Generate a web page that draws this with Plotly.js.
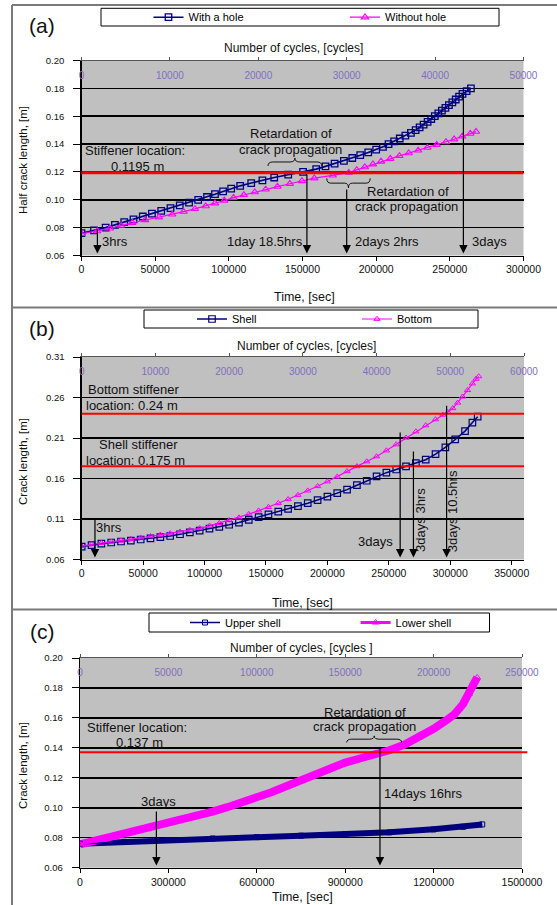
<!DOCTYPE html>
<html><head><meta charset="utf-8">
<script src="https://cdn.plot.ly/plotly-3.0.1.min.js"></script>
<style>html,body{margin:0;padding:0;background:#fff;}#chart{width:557px;height:905px;}</style>
</head><body><div id="chart"></div>
<script>
// ---------- Panel (a) ----------
const aHoleTime = [0,8500,16400,22700,29000,35300,41600,47800,54100,60400,66700,73000,79200,85200,90600,96100,101600,107700,115200,122800,130800,140300,150400,159300,165600,171800,178100,183800,189200,194600,200000,204600,208400,212200,216000,219800,223600,226800,229500,232200,234900,237400,239800,242200,244600,247000,249400,251700,254000,256300,258600,261400,264300];
const aHoleLen = [0.076,0.078,0.080,0.082,0.084,0.086,0.088,0.090,0.092,0.094,0.096,0.098,0.100,0.102,0.104,0.106,0.108,0.110,0.112,0.114,0.116,0.118,0.120,0.122,0.124,0.126,0.128,0.130,0.132,0.134,0.136,0.138,0.140,0.142,0.144,0.146,0.148,0.150,0.152,0.154,0.156,0.158,0.160,0.162,0.164,0.166,0.168,0.170,0.172,0.174,0.176,0.178,0.180];
const aNoHoleTime = [0,10600,19300,26900,34500,43200,52600,61600,69300,77000,84300,90600,96900,103200,110200,117600,125000,133000,141400,149600,158000,170500,181400,186800,192300,197800,203300,209600,215800,222100,228500,234800,241100,247400,252900,258400,263900,267800];
const aNoHoleLen = [0.0755,0.0775,0.0795,0.0815,0.0835,0.0855,0.0875,0.0895,0.0915,0.0935,0.0955,0.0975,0.0995,0.1015,0.1035,0.1055,0.1075,0.1095,0.1115,0.1135,0.1155,0.1175,0.1195,0.1215,0.1235,0.1255,0.1275,0.1295,0.1315,0.1335,0.1355,0.1375,0.1395,0.1415,0.1435,0.1455,0.1475,0.1489];
const aSeriesNames = ['With a hole','Without hole'];
const aCycleAxis = [0, 50000];
const aStiffener = [0.1195];
const aArrowTimes = [10800,153000,180000,259200];
const aArrowTops = [0.0795,0.119,0.1085,0.177];
const aArrowLabels = ['3hrs','1day 18.5hrs','2days 2hrs','3days'];

// ---------- Panel (b) ----------
const bShellTime = [0,8000,16000,24000,32000,40000,48000,56000,64000,72000,80000,88000,96000,104000,112000,120000,128000,136000,144000,152000,160000,168000,176000,184000,192000,200000,208000,216000,224000,232000,240000,248000,256000,264000,272000,280000,288000,296000,304000,312000,318000,322300];
const bShellLen = [0.0760,0.0778,0.0797,0.0810,0.0822,0.0834,0.0847,0.0861,0.0875,0.0890,0.0912,0.0934,0.0956,0.0980,0.1004,0.1029,0.1056,0.1089,0.1123,0.1156,0.1190,0.1225,0.1260,0.1295,0.1334,0.1376,0.1419,0.1463,0.1517,0.1572,0.1627,0.1672,0.1711,0.1749,0.1789,0.1832,0.1900,0.1984,0.2082,0.2185,0.2290,0.2363];
const bBottomTime = [0,8000,16000,24000,32000,40000,48000,56000,64000,72000,80000,88000,96000,104000,112000,120000,128000,136000,144000,152000,160000,168000,176000,184000,192000,200000,208000,216000,224000,232000,240000,248000,256000,264000,272000,280000,288000,294000,298000,302000,306000,310000,314000,318000,321000,323100];
const bBottomLen = [0.0765,0.0787,0.0804,0.0818,0.0833,0.0852,0.0869,0.0887,0.0905,0.0923,0.0943,0.0963,0.0985,0.1015,0.1049,0.1083,0.1118,0.1160,0.1204,0.1247,0.1295,0.1344,0.1396,0.1450,0.1505,0.1563,0.1622,0.1689,0.1750,0.1810,0.1872,0.1945,0.2020,0.2103,0.2180,0.2255,0.2330,0.2386,0.2420,0.2467,0.2535,0.2610,0.2690,0.2772,0.2830,0.2860];
const bSeriesNames = ['Shell','Bottom'];
const bCycleAxis = [0, 60000];
const bStiffeners = [0.24,0.175];
const bArrowTimes = [10800,259200,270000,297000];
const bArrowTops = [0.111,0.2186,0.1952,0.2516];
const bArrowLabels = ['3hrs','3days','3days 3hrs','3days 10.5hrs'];

// ---------- Panel (c) ----------
const cUpperTime = [0,150000,300000,450000,600000,750000,900000,1050000,1200000,1300000,1365000];
const cUpperLen = [0.0760,0.0773,0.0785,0.0795,0.0804,0.0814,0.0823,0.0836,0.0856,0.0873,0.0889];
const cLowerTime = [0,50000,100000,150000,200000,250000,300000,350000,400000,450000,500000,550000,600000,650000,700000,750000,800000,850000,900000,950000,1000000,1050000,1100000,1150000,1200000,1240000,1270000,1300000,1320000,1335000,1348000];
const cLowerLen = [0.0756,0.0780,0.0805,0.0826,0.0848,0.0871,0.0894,0.0919,0.0946,0.0974,0.1004,0.1035,0.1068,0.1104,0.1144,0.1185,0.1226,0.1268,0.1302,0.1329,0.1354,0.1384,0.1420,0.1469,0.1527,0.1580,0.1623,0.1693,0.1760,0.1815,0.1870];
const cSeriesNames = ['Upper shell','Lower shell'];
const cCycleAxis = [0, 250000];
const cStiffener = [0.137];
const cArrowTimes = [259200,1018000];
const cArrowTops = [0.0985,0.1413];
const cArrowLabels = ['3days','14days 16hrs'];

// ---------- styling ----------
const NAVY = '#000080', MAG = '#ff00ff', RED = '#ff0000';
const FONT = 'Liberation Sans, Arial, sans-serif';
const W = 557, H = 905;
const px = v => v / W, py = v => 1 - v / H;

const traces = [
  {x:aHoleTime, y:aHoleLen, name:aSeriesNames[0], xaxis:'x', yaxis:'y', legend:'legend', mode:'lines+markers',
   line:{color:NAVY,width:1.6}, marker:{symbol:'square-open',size:6.5,color:NAVY,line:{width:1.3}}},
  {x:aNoHoleTime, y:aNoHoleLen, name:aSeriesNames[1], xaxis:'x', yaxis:'y', legend:'legend2', mode:'lines+markers',
   line:{color:MAG,width:1.2}, marker:{symbol:'triangle-up-open',size:6.5,color:MAG,line:{width:1.1}}},
  {x:bShellTime, y:bShellLen, name:bSeriesNames[0], xaxis:'x3', yaxis:'y2', legend:'legend3', mode:'lines+markers',
   line:{color:NAVY,width:1.5}, marker:{symbol:'square-open',size:6.5,color:NAVY,line:{width:1.2}}},
  {x:bBottomTime, y:bBottomLen, name:bSeriesNames[1], xaxis:'x3', yaxis:'y2', legend:'legend4', mode:'lines+markers',
   line:{color:MAG,width:1.2}, marker:{symbol:'triangle-up-open',size:5.5,color:MAG,line:{width:1}}},
  {x:cUpperTime, y:cUpperLen, xaxis:'x5', yaxis:'y3', showlegend:false, mode:'lines',
   line:{color:NAVY,width:6}, hoverinfo:'skip'},
  {x:cLowerTime, y:cLowerLen, xaxis:'x5', yaxis:'y3', showlegend:false, mode:'lines',
   line:{color:MAG,width:8}, hoverinfo:'skip'},
  {x:cUpperTime, y:cUpperLen, name:cSeriesNames[0], xaxis:'x5', yaxis:'y3', legend:'legend5', mode:'lines+markers',
   line:{color:NAVY,width:1.5}, marker:{symbol:'square-open',size:5,color:NAVY,line:{width:1}}},
  {x:cLowerTime, y:cLowerLen, name:cSeriesNames[1], xaxis:'x5', yaxis:'y3', legend:'legend6', mode:'lines+markers',
   line:{color:MAG,width:3}, marker:{symbol:'triangle-up-open',size:6,color:MAG,line:{width:1}}},
  // carriers for the top (cycles) axes
  {x:aCycleAxis, y:[0.06,0.06], xaxis:'x2', yaxis:'y', mode:'lines', line:{width:0,color:'rgba(0,0,0,0)'}, showlegend:false, hoverinfo:'skip'},
  {x:bCycleAxis, y:[0.06,0.06], xaxis:'x4', yaxis:'y2', mode:'lines', line:{width:0,color:'rgba(0,0,0,0)'}, showlegend:false, hoverinfo:'skip'},
  {x:cCycleAxis, y:[0.06,0.06], xaxis:'x6', yaxis:'y3', mode:'lines', line:{width:0,color:'rgba(0,0,0,0)'}, showlegend:false, hoverinfo:'skip'}
];

function yAx(domain, range, dtick, anchor) {
  return {domain:domain, anchor:anchor, range:range, dtick:dtick, tick0:0.06, tickformat:'.2f', showgrid:true, gridcolor:'#000', gridwidth:1.5,
    showline:true, linecolor:'#000', linewidth:1.3, ticks:'outside', ticklen:7, tickcolor:'#000', ticklabelstandoff:7,
    zeroline:false, tickfont:{family:FONT,size:9.5,color:'#111'}, fixedrange:true, automargin:false};
}
function xAx(domain, anchor, range, dtick) {
  return {domain:domain, anchor:anchor, range:range, dtick:dtick, tick0:0, tickformat:'d', showgrid:false,
    showline:true, linecolor:'#000', linewidth:1.3, ticks:'outside', ticklen:4, tickcolor:'#000',
    zeroline:false, tickfont:{family:FONT,size:10.5,color:'#111'}, fixedrange:true, automargin:false};
}
function topAx(overlay, anchor, range, dtick) {
  return {overlaying:overlay, anchor:anchor, side:'top', range:range, dtick:dtick, tick0:0, tickformat:'d', showgrid:false,
    showline:true, linecolor:'#555', linewidth:1, ticks:'outside', ticklen:3, tickcolor:'#555',
    ticklabelposition:'inside', ticklabeloverflow:'allow', ticklabelstandoff:10,
    zeroline:false, tickfont:{family:FONT,size:10,color:'#7f6fbf'}, fixedrange:true, automargin:false};
}

const xdA = [px(81.5), px(523.5)], ydA = [py(255.5), py(60.5)];
const xdB = [px(81.7), px(524)],   ydB = [py(559.5), py(357)];
const xdC = [px(80), px(522)],     ydC = [py(867.7), py(658)];

function brace(x1, x2, y0, tip) {
  const xm = (x1 + x2) / 2, ym = (y0 + tip) / 2, q = (x2 - x1) * 0.09;
  return `M${x1},${y0} Q${x1},${ym} ${x1+q},${ym} L${xm-q},${ym} Q${xm},${ym} ${xm},${tip} Q${xm},${ym} ${xm+q},${ym} L${x2-q},${ym} Q${x2},${ym} ${x2},${y0}`;
}

const shapes = [];
const frame = {type:'line', xref:'paper', yref:'paper', line:{color:'#7a7a7a', width:2}, layer:'above'};
shapes.push(Object.assign({}, frame, {x0:px(12), x1:px(12), y0:py(5), y1:0}));
shapes.push(Object.assign({}, frame, {x0:px(12), x1:1, y0:py(5), y1:py(5)}));
shapes.push(Object.assign({}, frame, {x0:px(12), x1:1, y0:py(307.5), y1:py(307.5)}));
shapes.push(Object.assign({}, frame, {x0:px(12), x1:1, y0:py(609.5), y1:py(609.5)}));
[[101,499,8.3,26],[144,478,310,328],[149,489.5,613,632]].forEach(b => shapes.push({type:'rect', xref:'paper', yref:'paper',
  x0:px(b[0]), x1:px(b[1]), y0:py(b[3]), y1:py(b[2]), fillcolor:'#fff', line:{color:'#000', width:1}, layer:'above'}));
aStiffener.forEach(v => shapes.push({type:'line', xref:'x domain', yref:'y', x0:0, x1:1, y0:v, y1:v, line:{color:RED, width:3}}));
bStiffeners.forEach(v => shapes.push({type:'line', xref:'x3 domain', yref:'y2', x0:0, x1:1, y0:v, y1:v, line:{color:RED, width:2}}));
cStiffener.forEach(v => shapes.push({type:'line', xref:'x5 domain', yref:'y3', x0:0, x1:1.012, y0:v, y1:v, line:{color:RED, width:2}}));
shapes.push({type:'path', xref:'x', yref:'y', path:brace(126600, 163100, 0.1243, 0.1300), line:{color:'#111', width:1}});
shapes.push({type:'path', xref:'x', yref:'y', path:brace(166500, 195900, 0.1154, 0.1085), line:{color:'#111', width:1}});
shapes.push({type:'path', xref:'x5', yref:'y3', path:brace(905200, 1091800, 0.1436, 0.1480), line:{color:'#111', width:1}});

const ann = [];
const TXT = {family:FONT, size:13, color:'#111'};
function label(xr, yr, x, y, text, xanchor, extra) {
  ann.push(Object.assign({xref:xr, yref:yr, x:x, y:y, text:text, showarrow:false, xanchor:xanchor||'center', yanchor:'middle', font:TXT}, extra||{}));
}
function arrow(xr, yr, t, top, bottom) {
  ann.push({xref:xr, yref:yr, axref:xr, ayref:yr, x:t, y:bottom, ax:t, ay:top, text:'', showarrow:true,
    arrowhead:2, arrowsize:1.4, arrowwidth:1.2, arrowcolor:'#000', standoff:0, startstandoff:0});
}
function ptext(x, y, text, size, extra) {
  ann.push(Object.assign({xref:'paper', yref:'paper', x:px(x), y:py(y), text:text, showarrow:false, xanchor:'center', yanchor:'middle',
    font:{family:FONT, size:size, color:'#111'}}, extra||{}));
}
ptext(42, 25, '(a)', 21); ptext(42, 329, '(b)', 21); ptext(42, 631, '(c)', 21);
ptext(293, 48.3, 'Number of cycles, [cycles]', 12);
ptext(306, 345.7, 'Number of cycles, [cycles]', 12);
ptext(301, 647.7, 'Number of cycles, [cycles ]', 12);
ptext(304, 296.7, 'Time, [sec]', 12.5);
ptext(302, 602.7, 'Time, [sec]', 12.5);
ptext(302, 897, 'Time, [sec]', 12.5);
ptext(23, 160, 'Half crack length, [m]', 11.5, {textangle:-90});
ptext(23, 462, 'Crack length, [m]', 11.5, {textangle:-90});
ptext(23, 766, 'Crack length, [m]', 11.5, {textangle:-90});

// panel (a) texts
label('x','y', 1000, 0.1352, 'Stiffener location:', 'left');
label('x','y', 37700, 0.1238, '0.1195 m');
label('x','y', 142300, 0.1477, 'Retardation of');
label('x','y', 141600, 0.1362, 'crack propagation');
label('x','y', 221400, 0.1063, 'Retardation of');
label('x','y', 220300, 0.0950, 'crack propagation');
aArrowTimes.forEach((t, i) => arrow('x','y', t, aArrowTops[i], 0.0615));
label('x','y', 12600, 0.0699, aArrowLabels[0], 'left');
label('x','y', 151800, 0.0699, aArrowLabels[1], 'right');
label('x','y', 184300, 0.0699, aArrowLabels[2], 'left');
label('x','y', 263800, 0.0699, aArrowLabels[3], 'left');

// panel (b) texts
label('x3','y2', 3500, 0.2693, 'Bottom stiffener', 'left');
label('x3','y2', 1900, 0.2499, 'location: 0.24 m', 'left');
label('x3','y2', 12200, 0.2014, 'Shell stiffener', 'left');
label('x3','y2', 1900, 0.1820, 'location: 0.175 m', 'left');
bArrowTimes.forEach((t, i) => arrow('x3','y2', t, bArrowTops[i], 0.0625));
label('x3','y2', 10000, 0.0998, bArrowLabels[0], 'left');
label('x3','y2', 254600, 0.0820, bArrowLabels[1], 'right');
label('x3','y2', 276300, 0.1091, bArrowLabels[2], 'center', {textangle:-90});
label('x3','y2', 302500, 0.1200, bArrowLabels[3], 'center', {textangle:-90});

// panel (c) texts
label('x5','y3', 17000, 0.1534, 'Stiffener location:', 'left');
label('x5','y3', 203600, 0.1436, '0.137 m');
label('x5','y3', 967300, 0.1636, 'Retardation of');
label('x5','y3', 963900, 0.1540, 'crack propagation');
cArrowTimes.forEach((t, i) => arrow('x5','y3', t, cArrowTops[i], 0.0615));
label('x5','y3', 264700, 0.1040, cArrowLabels[0]);
label('x5','y3', 1024000, 0.1096, cArrowLabels[1], 'left');

function leg(x, y) {
  return {orientation:'h', x:px(x), y:py(y), xanchor:'left', yanchor:'middle', bgcolor:'rgba(0,0,0,0)', borderwidth:0,
    font:{family:FONT, size:11, color:'#000'}, itemclick:false, itemdoubleclick:false};
}

const layout = {
  width:W, height:H, margin:{l:0, r:0, t:0, b:0, autoexpand:false}, paper_bgcolor:'#fff', plot_bgcolor:'#c0c0c0',
  font:{family:FONT}, hovermode:false, showlegend:true,
  legend:leg(148.5, 17.2), legend2:leg(345, 17.2),
  legend3:leg(192, 319), legend4:leg(357, 319),
  legend5:leg(185, 622.5), legend6:leg(355.6, 622.5),
  xaxis:xAx(xdA, 'y', [0, 300000], 50000),
  xaxis2:topAx('x', 'y', aCycleAxis, 10000),
  yaxis:yAx(ydA, [0.06, 0.20], 0.02, 'x'),
  xaxis3:xAx(xdB, 'y2', [0, 360000], 50000),
  xaxis4:topAx('x3', 'y2', bCycleAxis, 10000),
  yaxis2:yAx(ydB, [0.06, 0.31], 0.05, 'x3'),
  xaxis5:xAx(xdC, 'y3', [0, 1500000], 300000),
  xaxis6:topAx('x5', 'y3', cCycleAxis, 50000),
  yaxis3:yAx(ydC, [0.06, 0.20], 0.02, 'x5'),
  shapes:shapes, annotations:ann
};
Plotly.newPlot('chart', traces, layout, {displayModeBar:false, staticPlot:true});
</script></body></html>
